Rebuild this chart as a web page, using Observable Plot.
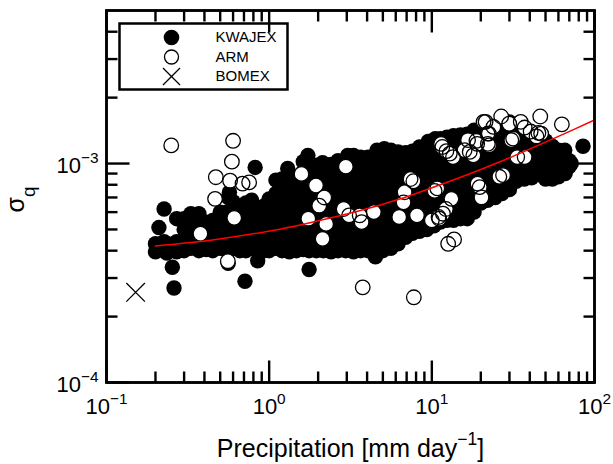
<!DOCTYPE html>
<html>
<head>
<meta charset="utf-8">
<style>
  html, body { margin: 0; padding: 0; background: #fff; }
  #chart { position: relative; width: 613px; height: 464px; }
  #chart svg { font-family: "Liberation Sans", Arial, Helvetica, sans-serif; }
  #chart svg.overlay { position: absolute; left: 0; top: 0; background: transparent; pointer-events: none; }
</style>
<script src="https://cdn.jsdelivr.net/npm/d3@7"></script>
<script src="https://cdn.jsdelivr.net/npm/@observablehq/plot@0.6"></script>
</head>
<body>
<div id="chart"></div>
<script>
// sigma values are given in units of 1e-4
const SIGMA_UNIT = 1e-4;

// KWAJEX (filled circles): [precipitation mm/day, sigma_q (1e-4)]
const kwajex = [
[0.20,3.95],[0.20,4.3],[0.21,4.05],[0.21,5.1],[0.226,4.4],[0.226,6.2],[0.235,3.9],[0.235,4.3],[0.254,3.36],[0.26,2.7],
[0.27,3.95],[0.27,4.4],[0.27,5.6],
[0.30,4.0],[0.30,4.5],[0.30,5.0],[0.30,5.6],
[0.33,4.1],[0.33,4.6],[0.33,5.2],[0.33,5.9],
[0.37,4.0],[0.37,4.4],[0.37,4.9],[0.37,5.5],[0.37,5.9],
[0.41,4.05],[0.41,4.5],[0.41,5.0],[0.41,5.4],
[0.45,4.0],[0.45,4.4],[0.45,4.9],[0.45,5.5],
[0.50,4.1],[0.50,4.6],[0.50,5.1],[0.50,5.6],[0.50,6.0],
[0.55,4.0],[0.55,4.5],[0.55,5.0],[0.55,5.5],[0.55,6.0],[0.56,7.0],[0.57,7.4],[0.56,3.5],
[0.60,4.1],[0.60,4.6],[0.60,5.1],[0.60,5.6],[0.60,6.1],[0.60,6.7],
[0.66,4.0],[0.66,4.5],[0.66,5.0],[0.66,5.5],[0.66,6.2],
[0.71,2.9],
[0.72,4.0],[0.72,4.4],[0.72,4.9],[0.72,5.4],[0.72,6.0],[0.72,6.6],
[0.78,4.1],[0.78,4.6],[0.78,5.2],[0.78,5.8],[0.78,6.8],
[0.82,9.6],
[0.85,3.6],[0.85,4.0],[0.85,4.5],[0.85,5.0],[0.85,5.6],[0.85,6.3],
[0.93,4.0],[0.93,4.5],[0.93,5.1],[0.93,5.7],[0.93,6.4],
[1.0,4.0],[1.0,4.4],[1.0,4.9],[1.0,5.5],[1.0,6.1],[1.0,6.9],
[1.1,4.1],[1.1,4.6],[1.1,5.1],[1.1,5.8],[1.1,6.5],[1.1,7.3],[1.1,8.4],
[1.2,4.0],[1.2,4.5],[1.2,5.0],[1.2,5.6],[1.2,6.2],[1.2,6.9],[1.2,7.6],[1.2,8.5],
[1.33,3.95],[1.33,4.4],[1.33,4.9],[1.33,5.5],[1.33,6.1],[1.33,6.8],[1.33,7.6],[1.33,8.6],[1.3,9.5],
[1.47,4.0],[1.47,4.5],[1.47,5.0],[1.47,5.6],[1.47,6.3],[1.47,7.0],[1.47,7.8],[1.47,8.6],
[1.62,4.05],[1.62,4.6],[1.62,5.2],[1.62,5.8],[1.62,6.5],[1.62,7.3],[1.62,8.2],[1.62,9.2],[1.62,10.2],
[1.76,3.28],[1.76,4.0],[1.76,4.5],[1.76,5.1],[1.76,5.7],[1.76,6.4],[1.76,7.1],[1.76,8.0],[1.76,9.0],[1.76,10.1],[1.73,10.9],
[1.95,4.0],[1.95,4.5],[1.95,5.0],[1.95,5.6],[1.95,6.3],[1.95,7.0],[1.95,7.9],[1.95,8.8],[1.95,9.8],
[2.15,4.0],[2.15,4.4],[2.15,4.9],[2.15,5.5],[2.15,6.2],[2.15,7.0],[2.15,7.9],[2.15,8.9],[2.13,10.1],
[2.4,3.95],[2.4,4.4],[2.4,5.0],[2.4,5.6],[2.4,6.3],[2.4,7.1],[2.4,8.0],[2.4,9.0],[2.4,9.9],
[2.65,4.0],[2.65,4.5],[2.65,5.0],[2.65,5.7],[2.65,6.4],[2.65,7.2],[2.65,8.1],[2.65,9.1],[2.65,10.3],
[2.95,4.0],[2.95,4.5],[2.95,5.1],[2.95,5.7],[2.95,6.4],[2.95,7.2],[2.95,8.1],[2.95,9.1],[2.95,10.1],[3.04,10.9],
[3.3,3.95],[3.3,4.4],[3.3,4.9],[3.3,5.5],[3.3,6.2],[3.3,7.0],[3.3,7.9],[3.3,8.9],[3.3,10.0],[3.3,10.9],
[3.65,4.0],[3.65,4.5],[3.65,5.0],[3.65,5.6],[3.65,6.3],[3.65,7.1],[3.65,8.0],[3.65,9.0],[3.65,10.1],[3.65,10.7],
[4.05,4.0],[4.05,4.5],[4.05,5.1],[4.05,5.7],[4.05,6.4],[4.05,7.2],[4.05,8.1],[4.05,9.1],[4.05,10.2],[4.05,10.7],
[4.5,3.75],[4.5,4.2],[4.5,4.7],[4.5,5.3],[4.5,6.0],[4.5,6.7],[4.5,7.5],[4.5,8.4],[4.5,9.4],[4.5,10.5],[4.6,11.5],
[5.0,4.0],[5.0,4.5],[5.0,5.0],[5.0,5.6],[5.0,6.3],[5.0,7.1],[5.0,8.0],[5.0,9.0],[5.0,10.1],[5.1,11.7],
[5.6,4.1],[5.6,4.6],[5.6,5.2],[5.6,5.8],[5.6,6.5],[5.6,7.3],[5.6,8.2],[5.6,9.2],[5.6,10.3],[5.6,11.5],
[6.2,4.3],[6.2,4.8],[6.2,5.4],[6.2,6.0],[6.2,6.7],[6.2,7.5],[6.2,8.4],[6.2,9.4],[6.2,10.5],[6.2,11.3],
[6.9,4.6],[6.9,5.1],[6.9,5.7],[6.9,6.4],[6.9,7.2],[6.9,8.1],[6.9,9.1],[6.9,10.2],[6.9,11.2],
[7.6,4.8],[7.6,5.4],[7.6,6.0],[7.6,6.7],[7.6,7.5],[7.6,8.4],[7.6,9.4],[7.6,10.5],[7.6,11.4],
[8.4,4.9],[8.4,5.5],[8.4,6.2],[8.4,6.9],[8.4,7.7],[8.4,8.6],[8.4,9.6],[8.4,10.7],[8.4,11.9],
[9.3,5.0],[9.3,5.6],[9.3,6.3],[9.3,7.0],[9.3,7.8],[9.3,8.7],[9.3,9.7],[9.3,10.8],[9.3,12.0],[9.5,12.6],
[10.3,5.2],[10.3,5.8],[10.3,6.5],[10.3,7.2],[10.3,8.0],[10.3,8.9],[10.3,9.9],[10.3,11.0],[10.3,12.2],[10.5,13.0],
[11.3,5.4],[11.3,6.0],[11.3,6.7],[11.3,7.5],[11.3,8.4],[11.3,9.4],[11.3,10.5],[11.3,11.7],[11.3,13.0],
[12.4,5.5],[12.4,6.1],[12.4,6.8],[12.4,7.6],[12.4,8.5],[12.4,9.5],[12.4,10.6],[12.4,11.8],[12.4,13.2],
[13.6,5.5],[13.6,6.2],[13.6,6.9],[13.6,7.7],[13.6,8.6],[13.6,9.6],[13.6,10.7],[13.6,12.0],[13.6,13.4],
[15.0,5.6],[15.0,6.3],[15.0,7.0],[15.0,7.8],[15.0,8.7],[15.0,9.7],[15.0,10.8],[15.0,12.1],[15.0,13.5],
[16.5,5.6],[16.5,6.3],[16.5,7.1],[16.5,7.9],[16.5,8.8],[16.5,9.8],[16.5,11.0],[16.5,12.3],[16.5,13.6],
[18.2,6.0],[18.2,6.7],[18.2,7.5],[18.2,8.4],[18.2,9.4],[18.2,10.5],[18.2,11.7],[18.2,13.0],[18.2,14.2],
[20,6.6],[20,7.4],[20,8.3],[20,9.3],[20,10.4],[20,11.6],[20,12.9],[20,14.3],
[22,6.8],[22,7.6],[22,8.5],[22,9.5],[22,10.6],[22,11.8],[22,13.2],[22,14.6],
[24.5,7.0],[24.5,7.8],[24.5,8.7],[24.5,9.7],[24.5,10.8],[24.5,12.0],[24.5,13.4],[24.5,14.8],
[27,7.3],[27,8.1],[27,9.0],[27,10.0],[27,11.1],[27,12.4],[27,13.8],[27,15.2],
[30,7.6],[30,8.4],[30,9.3],[30,10.3],[30,11.4],[30,12.7],[30,14.1],[30,15.5],
[33,8.3],[33,9.2],[33,10.2],[33,11.3],[33,12.6],[33,14.0],[33,15.0],
[37,8.5],[37,9.4],[37,10.4],[37,11.6],[37,12.9],[37,14.4],
[41,8.6],[41,9.5],[41,10.6],[41,11.8],[41,13.1],
[45,8.9],[45,9.9],[45,11.0],[45,12.2],[45,13.6],
[50,8.5],[50,9.4],[50,10.4],[50,11.5],[50,12.7],
[55,8.5],[55,9.4],[55,10.4],[55,11.4],[55,12.0],
[60,8.7],[60,9.6],[60,10.6],[60,11.5],
[66,9.0],[66,10.0],[65.6,11.5],
[70,9.7],[70,10.3],[72,10.0],
[85,12.0]
];

// ARM (open circles): [precipitation mm/day, sigma_q (1e-4)]
const arm = [
[0.25,12.1],[0.60,12.7],[0.59,10.2],[0.47,8.66],[0.575,8.35],[0.686,8.1],[0.753,8.2],[0.465,6.9],[0.61,5.65],[0.378,4.78],[0.557,3.58],
[1.58,8.97],[2.96,9.68],[1.94,7.94],[2.18,7.0],[2.03,6.42],[1.74,5.6],[2.24,5.3],[2.13,4.53],[2.87,6.2],[3.1,5.8],[3.6,5.8],[3.7,5.4],
[4.4,6.0],[6.3,5.7],[8.1,5.8],[6.8,7.4],[6.7,6.65],[7.4,8.5],[7.7,8.3],[10.4,7.5],[10.8,7.7],[10.0,5.5],[11.0,5.7],[3.76,2.72],[7.75,2.45],
[11.1,5.6],[11.7,5.9],[12.2,6.2],[13.2,6.9],[12.6,4.3],[13.7,4.5],
[11.4,12.3],[11.6,11.9],[12.3,11.4],[12.9,11.1],[13.5,10.7],
[16.7,12.8],[17.1,11.3],[15.9,11.5],[18.8,12.7],[18.0,10.9],[19.0,12.3],[22.1,12.3],[22.4,13.7],
[20.8,15.5],[21.4,15.5],[26.7,16.4],[29.9,15.2],[23.9,14.7],[22.0,13.7],[22.5,12.1],
[35.2,15.5],[46.4,16.4],[63,15.1],[40.5,14.0],[44,13.3],[45.2,13.8],[37.2,14.6],[31.6,13.0],[30.8,12.8],[47,13.7],
[33.5,10.7],[37.2,10.7],[26.0,8.7],[27.4,8.85],[19.1,8.1],[20.2,7.0],[19.7,7.8]
];

// BOMEX (cross)
const bomex = [[0.151, 2.58]];

// fitted curve (red)
const fitP = [0.2, 0.47, 1.05, 1.65, 3.5, 6.8, 10.5, 20, 30.8, 60, 100];
const fitSigma = [4.2, 4.5, 4.95, 5.3, 6.05, 7.0, 7.85, 9.4, 10.7, 13.3, 15.8];

// axes
const xMajor = [0.1, 1, 10, 100];
const xMajorLabels = ["10^{\u22121}", "10^{0}", "10^{1}", "10^{2}"];
const xMinor = [0.2,0.3,0.4,0.5,0.6,0.7,0.8,0.9, 2,3,4,5,6,7,8,9, 20,30,40,50,60,70,80,90];
const yMajor = [1e-4, 1e-3];
const yMajorLabels = ["10^{\u22124}", "10^{\u22123}"];
const yMinor = [2e-4,3e-4,4e-4,5e-4,6e-4,7e-4,8e-4,9e-4, 2e-3,3e-3,4e-3];
const xLabel = "Precipitation [mm day^{\u22121}]";
const yLabel = "\u03c3_{q}";

// legend
const legendLabels = ["KWAJEX", "ARM", "BOMEX"];

const px = d => d[0];
const py = d => d[1] * SIGMA_UNIT;
const fitData = fitP.map((p, i) => [p, fitSigma[i]]);

const layout = {
  width: 613, height: 464,
  marginLeft: 106, marginRight: 19, marginTop: 10, marginBottom: 82,
  x: {type: "log", domain: [0.1, 100], axis: null},
  y: {type: "log", domain: [1e-4, 5e-3], axis: null}
};

// inward ticks drawn as short symbol strokes anchored on the frame edges
const tickGlyph = (dx, dy) => ({draw(ctx) { ctx.moveTo(0, 0); ctx.lineTo(dx, dy); }});
const TW = 2.4;
const xTicks = (ticks, anchor, len) =>
  Plot.dot(ticks, {x: d => d, frameAnchor: anchor, symbol: tickGlyph(0, anchor === "bottom" ? -len : len),
                   fill: "none", stroke: "black", strokeWidth: TW, r: 5});
const yTicks = (ticks, anchor, len) =>
  Plot.dot(ticks, {y: d => d, frameAnchor: anchor, symbol: tickGlyph(anchor === "left" ? len : -len, 0),
                   fill: "none", stroke: "black", strokeWidth: TW, r: 5});

const legendMarks = [];
const legendDy = [27, 46.5, 66];
legendLabels.forEach((lab, i) => {
  const dy = legendDy[i];
  if (i === 0) legendMarks.push(Plot.dot([lab], {frameAnchor: "top-left", dx: 65, dy, r: 7.8, fill: "black"}));
  if (i === 1) legendMarks.push(Plot.dot([lab], {frameAnchor: "top-left", dx: 65, dy, r: 7.0, fill: "white", stroke: "black", strokeWidth: 1.3}));
  if (i === 2) legendMarks.push(Plot.dot([lab], {frameAnchor: "top-left", dx: 65, dy, r: 7.8, symbol: "times", stroke: "black", strokeWidth: 1.3}));
  legendMarks.push(Plot.text([lab], {frameAnchor: "top-left", dx: 109, dy, lineAnchor: "middle", text: d => d, textAnchor: "start", fontSize: 15, fill: "black"}));
});

const chart = Plot.plot({
  ...layout,
  style: {background: "white", color: "black", overflow: "visible", fontFamily: "Liberation Sans, Arial, Helvetica, sans-serif"},
  marks: [
    Plot.dot(kwajex, {x: px, y: py, r: 7.7, fill: "black"}),
    Plot.dot(arm, {x: px, y: py, r: 7.3, fill: "white"}),
    Plot.dot(arm, {x: px, y: py, r: 7.3, fill: "none", stroke: "black", strokeWidth: 1.3}),
    Plot.dot(bomex, {x: px, y: py, r: 8.5, symbol: "times", stroke: "black", strokeWidth: 1.3}),
    Plot.line(fitData, {x: px, y: py, stroke: "#ff0000", strokeWidth: 1.5, curve: "catmull-rom"}),
    Plot.frame({stroke: "black", strokeWidth: 2.5}),
    Plot.text(xMajor, {x: d => d, frameAnchor: "bottom", dy: 31, lineAnchor: "bottom", text: xMajorLabels, fontSize: 22, fill: "black"}),
    Plot.text(yMajor, {y: d => d, frameAnchor: "left", dx: -8, dy: 9.7, lineAnchor: "bottom", textAnchor: "end", text: yMajorLabels, fontSize: 22, fill: "black"}),
    Plot.text([xLabel], {frameAnchor: "bottom", dy: 74, lineAnchor: "bottom", text: d => d, fontSize: 25, fill: "black"}),
    Plot.text([yLabel], {frameAnchor: "left", dx: -83, dy: 16, lineAnchor: "bottom", rotate: -90, text: d => d, fontSize: 25, fill: "black"}),
    Plot.frame({stroke: "black", strokeWidth: 2.5, fill: "white", insetLeft: 13, insetTop: 13, insetRight: 307, insetBottom: 293}),
    ...legendMarks
  ]
});

// ticks + frame in a transparent layer on top, using the same scales
const tickLayer = Plot.plot({
  ...layout,
  className: "overlay",
  style: {background: "none", overflow: "visible"},
  marks: [
    xTicks(xMinor, "bottom", 11),
    xTicks(xMajor, "bottom", 22),
    xTicks(xMinor, "top", 11),
    xTicks(xMajor, "top", 22),
    yTicks(yMinor, "left", 11),
    yTicks(yMajor, "left", 23),
    yTicks(yMinor, "right", 11),
    yTicks(yMajor, "right", 23),
    Plot.frame({stroke: "black", strokeWidth: 2.5})
  ]
});

// turn ^{..} and _{..} into real superscript / subscript tspans
function richify(el) {
  const s = el.textContent;
  if (!/[\^_]\{/.test(s)) return;
  const fs = parseFloat(getComputedStyle(el).fontSize) || 20;
  const parts = [];
  const re = /\^\{([^}]*)\}|_\{([^}]*)\}/g;
  let last = 0, m;
  while ((m = re.exec(s))) {
    if (m.index > last) parts.push({t: s.slice(last, m.index), k: "n"});
    if (m[1] !== undefined) parts.push({t: m[1], k: "sup"});
    else parts.push({t: m[2], k: "sub"});
    last = re.lastIndex;
  }
  if (last < s.length) parts.push({t: s.slice(last), k: "n"});
  while (el.firstChild) el.removeChild(el.firstChild);
  const ns = "http://www.w3.org/2000/svg";
  let shift = 0;
  for (const p of parts) {
    const ts = document.createElementNS(ns, "tspan");
    ts.textContent = p.t;
    let target = 0;
    if (p.k === "sup") { target = -0.45 * fs; ts.setAttribute("font-size", (0.7 * fs).toFixed(1)); }
    else if (p.k === "sub") { target = 0.45 * fs; ts.setAttribute("font-size", (0.75 * fs).toFixed(1)); }
    const d = target - shift;
    if (d !== 0) ts.setAttribute("dy", d.toFixed(2));
    shift = target;
    el.appendChild(ts);
  }
}

const host = document.getElementById("chart");
host.appendChild(chart);
chart.querySelectorAll("text").forEach(richify);
tickLayer.classList.add("overlay");
tickLayer.style.position = "absolute";
tickLayer.style.left = "0px";
tickLayer.style.top = "0px";
host.appendChild(tickLayer);
</script>
</body>
</html>
